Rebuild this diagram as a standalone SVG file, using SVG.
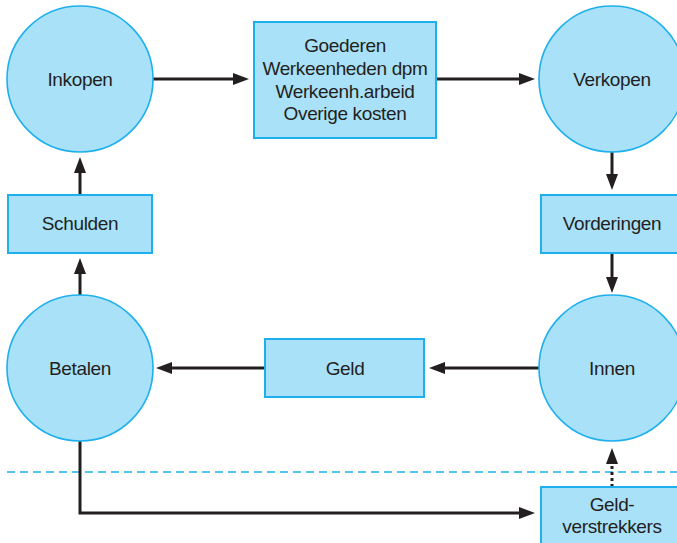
<svg xmlns="http://www.w3.org/2000/svg" width="677" height="543" viewBox="0 0 677 543">
  <style>
    .node { fill: #a9e1f9; stroke: #1eb0ec; stroke-width: 1.6; }
    .box { fill: #a9e1f9; stroke: #1eb0ec; stroke-width: 2; }
    .label { font-family: "Liberation Sans", Arial, sans-serif; font-size: 19px; letter-spacing: -0.35px; fill: #231f20; text-anchor: middle; }
    .flow { fill: none; stroke: #231f20; stroke-width: 3; }
    .loan { fill: none; stroke: #231f20; stroke-width: 3; stroke-dasharray: 3 3; }
    .border { fill: none; stroke: #1eb0ec; stroke-width: 1.5; stroke-dasharray: 8 5; }
  </style>
  <defs>
    <marker id="arrow" viewBox="0 0 16 12" markerWidth="16" markerHeight="12" refX="2" refY="6" orient="auto" markerUnits="userSpaceOnUse">
      <path d="M0,0 L16,6 L0,12 z" fill="#231f20"/>
    </marker>
  </defs>

  <rect width="677" height="543" fill="#ffffff"/>

  <!-- boundary between the firm and outside lenders -->
  <line class="border" x1="7" y1="472" x2="677" y2="472"/>

  <g id="connectors">
    <path class="flow" d="M153,79 H235" marker-end="url(#arrow)"/>
    <path class="flow" d="M436,79 H521" marker-end="url(#arrow)"/>
    <path class="flow" d="M612,152 V176" marker-end="url(#arrow)"/>
    <path class="flow" d="M612,253 V279" marker-end="url(#arrow)"/>
    <path class="flow" d="M539,368 H443" marker-end="url(#arrow)"/>
    <path class="flow" d="M265,368 H170" marker-end="url(#arrow)"/>
    <path class="flow" d="M80,295 V272" marker-end="url(#arrow)"/>
    <path class="flow" d="M80,195 V171" marker-end="url(#arrow)"/>
    <path class="flow" d="M80,441 V513 H521" marker-end="url(#arrow)"/>
    <path class="loan" d="M612,487 V462" marker-end="url(#arrow)"/>
  </g>

  <g id="inkopen">
    <circle class="node" cx="80" cy="79" r="73"/>
    <text class="label" x="80" y="85.5">Inkopen</text>
  </g>

  <g id="productiemiddelen">
    <rect class="box" x="254" y="22" width="182" height="116"/>
    <text class="label" x="345" y="51.5">Goederen</text>
    <text class="label" x="345" y="74.5">Werkeenheden dpm</text>
    <text class="label" x="345" y="97.5">Werkeenh.arbeid</text>
    <text class="label" x="345" y="120">Overige kosten</text>
  </g>

  <g id="verkopen">
    <circle class="node" cx="612" cy="79" r="73"/>
    <text class="label" x="612" y="85.5">Verkopen</text>
  </g>

  <g id="vorderingen">
    <rect class="box" x="541" y="195" width="142" height="58"/>
    <text class="label" x="612" y="230">Vorderingen</text>
  </g>

  <g id="innen">
    <circle class="node" cx="612" cy="368" r="73"/>
    <text class="label" x="612" y="374.5">Innen</text>
  </g>

  <g id="geld">
    <rect class="box" x="265" y="339" width="159" height="58"/>
    <text class="label" x="345" y="374.5">Geld</text>
  </g>

  <g id="betalen">
    <circle class="node" cx="80" cy="368" r="73"/>
    <text class="label" x="80" y="374.5">Betalen</text>
  </g>

  <g id="schulden">
    <rect class="box" x="8" y="195" width="144" height="58"/>
    <text class="label" x="80" y="230">Schulden</text>
  </g>

  <g id="geldverstrekkers">
    <rect class="box" x="541" y="487" width="142" height="70"/>
    <text class="label" x="612" y="510.5">Geld-</text>
    <text class="label" x="612" y="532.5">verstrekkers</text>
  </g>
</svg>
